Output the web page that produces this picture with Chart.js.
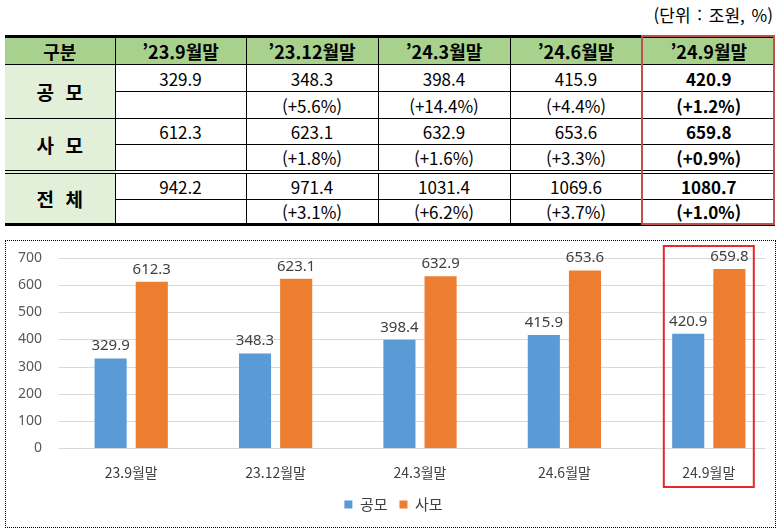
<!DOCTYPE html>
<html lang="ko">
<head>
<meta charset="utf-8">
<script src="https://cdn.jsdelivr.net/npm/chart.js@4.4.1/dist/chart.umd.min.js"></script>
<style>
    html, body { margin: 0; padding: 0; background: #fff; }
    body { width: 784px; height: 532px; position: relative; overflow: hidden; font-family: "Noto Sans CJK KR", sans-serif; }
    #unit { position: absolute; right: 11px; top: 4px; font-size: 17px; line-height: 22px; color: #000; word-spacing: 2px; }
    #tbl { position: absolute; left: 5px; top: 35px; width: 770px; border-collapse: collapse; table-layout: fixed; }
    #tbl th, #tbl td { padding: 0; text-align: center; border: 1px solid #000; font-size: 17px; line-height: 1; color: #000; }
    #tbl th:first-child, #tbl td:first-child { border-left: none; }
    #tbl th:last-child, #tbl td:last-child { border-right: none; }
    #tbl tr.head th { background: #a9d18e; border-top: 3px solid #000; font-weight: bold; font-size: 18px; height: 26px; }
    #tbl td.lab { background: #e2efd9; font-weight: bold; font-size: 19px; word-spacing: 6px; }
    #tbl td.last { font-weight: bold; }
    #tbl tr.dbl td { border-top: 4px double #000; }
    #tbl tr.end td, #tbl td.lab.endlab { border-bottom: 3px solid #000; }
    #redTable { position: absolute; left: 641px; top: 35px; width: 134px; height: 190px; box-sizing: border-box; border: 2px solid #c0504d; }
    #frame { position: absolute; left: 5px; top: 240px; width: 771px; height: 288px; box-sizing: border-box; border: 1px dotted #000; }
    #chartBox { position: absolute; left: 6px; top: 241px; width: 776px; height: 285px; }
</style>
</head>
<body>
<div id="unit">(단위 : 조원, %)</div>
<table id="tbl">
    <colgroup>
        <col style="width:110px"><col style="width:131px"><col style="width:132px">
        <col style="width:132px"><col style="width:132px"><col style="width:133px">
    </colgroup>
    <tbody id="tbody"></tbody>
</table>
<div id="redTable"></div>
<div id="frame"></div>
<div id="chartBox"><canvas id="fundChart"></canvas></div>

<script>
// ==================== DATA ====================
const categories = ['23.9월말', '23.12월말', '24.3월말', '24.6월말', '24.9월말'];
const publicFund = [329.9, 348.3, 398.4, 415.9, 420.9];
const privateFund = [612.3, 623.1, 632.9, 653.6, 659.8];
const totalFund = [942.2, 971.4, 1031.4, 1069.6, 1080.7];
const publicGrowth = [null, 5.6, 14.4, 4.4, 1.2];
const privateGrowth = [null, 1.8, 1.6, 3.3, 0.9];
const totalGrowth = [null, 3.1, 6.2, 3.7, 1.0];
const rowLabels = ['공 모', '사 모', '전 체'];

// ==================== TABLE ====================
const tbody = document.getElementById('tbody');
const lastIdx = categories.length - 1;

let html = '<tr class="head" style="height:28px"><th>구분</th>';
categories.forEach(c => { html += '<th>’' + c + '</th>'; });
html += '</tr>';

const groups = [
    [publicFund, publicGrowth],
    [privateFund, privateGrowth],
    [totalFund, totalGrowth]
];
const rowHeights = [[27, 27], [26, 27], [28, 25]];

groups.forEach((g, gi) => {
    const first = gi === 2 ? ' class="dbl"' : '';
    const end = gi === 2 ? ' class="end"' : '';
    html += '<tr' + first + ' style="height:' + rowHeights[gi][0] + 'px">';
    html += '<td rowspan="2" class="lab' + (gi === 2 ? ' endlab' : '') + '">' + rowLabels[gi] + '</td>';
    g[0].forEach((v, i) => {
        html += '<td' + (i === lastIdx ? ' class="last"' : '') + '>' + v.toFixed(1) + '</td>';
    });
    html += '</tr><tr' + end + ' style="height:' + rowHeights[gi][1] + 'px">';
    g[1].forEach((v, i) => {
        const txt = v === null ? '' : '(+' + v.toFixed(1) + '%)';
        html += '<td' + (i === lastIdx ? ' class="last"' : '') + '>' + txt + '</td>';
    });
    html += '</tr>';
});
tbody.innerHTML = html;

// ==================== CHART PLUGINS ====================
const numFont = '"Noto Sans", "Noto Sans CJK KR", sans-serif';
const korFont = '"Noto Sans CJK KR", "Noto Sans", sans-serif';

// horizontal grid lines (they stop a little short of the last category in the original)
const gridLines = {
    id: 'gridLines',
    beforeDatasetsDraw(chart) {
        const { ctx, chartArea, scales: { y } } = chart;
        ctx.save();
        ctx.strokeStyle = '#d9d9d9';
        ctx.lineWidth = 1;
        y.ticks.forEach(t => {
            const py = Math.round(y.getPixelForValue(t.value)) + 0.5;
            ctx.beginPath();
            ctx.moveTo(chartArea.left, py);
            ctx.lineTo(chartArea.right - 16, py);
            ctx.stroke();
        });
        ctx.restore();
    }
};

// value labels above each bar
const barLabels = {
    id: 'barLabels',
    afterDatasetsDraw(chart) {
        const ctx = chart.ctx;
        ctx.save();
        ctx.font = '15px ' + numFont;
        ctx.fillStyle = '#404040';
        ctx.textAlign = 'center';
        ctx.textBaseline = 'bottom';
        chart.data.datasets.forEach((ds, i) => {
            chart.getDatasetMeta(i).data.forEach((bar, j) => {
                ctx.fillText(ds.data[j].toFixed(1), bar.x, bar.y - 5);
            });
        });
        ctx.restore();
    }
};

// red box around the latest period
const highlight = {
    id: 'highlight',
    afterDraw(chart) {
        const { ctx, chartArea, scales: { x } } = chart;
        const cx = x.getPixelForValue(lastIdx);
        ctx.save();
        ctx.strokeStyle = '#e12a2a';
        ctx.lineWidth = 2;
        ctx.strokeRect(cx - 45, chartArea.top - 12, 90, chartArea.bottom - chartArea.top + 51);
        ctx.restore();
    }
};

// ==================== CHART ====================
new Chart(document.getElementById('fundChart'), {
    type: 'bar',
    data: {
        labels: categories,
        datasets: [
            { label: '공모', data: publicFund, backgroundColor: '#5b9bd5' },
            { label: '사모', data: privateFund, backgroundColor: '#ed7d31' }
        ]
    },
    options: {
        responsive: true,
        maintainAspectRatio: false,
        animation: false,
        categoryPercentage: 0.57,
        barPercentage: 0.78,
        layout: { padding: { top: 17, right: 1, bottom: 4, left: 0 } },
        plugins: {
            legend: {
                position: 'bottom',
                labels: {
                    boxWidth: 8,
                    boxHeight: 8,
                    padding: 12,
                    color: '#404040',
                    font: { family: korFont, size: 15 }
                }
            },
            tooltip: { enabled: false }
        },
        scales: {
            x: {
                grid: { display: false, drawTicks: false },
                border: { display: false },
                ticks: { color: '#404040', padding: 16, font: { family: korFont, size: 14 } },
                afterFit(scale) { scale.height = 37; }
            },
            y: {
                min: 0,
                max: 700,
                grid: { display: false, drawTicks: false },
                border: { display: false },
                ticks: { stepSize: 100, color: '#595959', padding: 17, font: { family: numFont, size: 14 } },
                afterFit(scale) {
                    scale.width = 53;
                    scale.paddingTop = 0;
                    scale.paddingBottom = 0;
                }
            }
        }
    },
    plugins: [gridLines, barLabels, highlight]
});
</script>
</body>
</html>
